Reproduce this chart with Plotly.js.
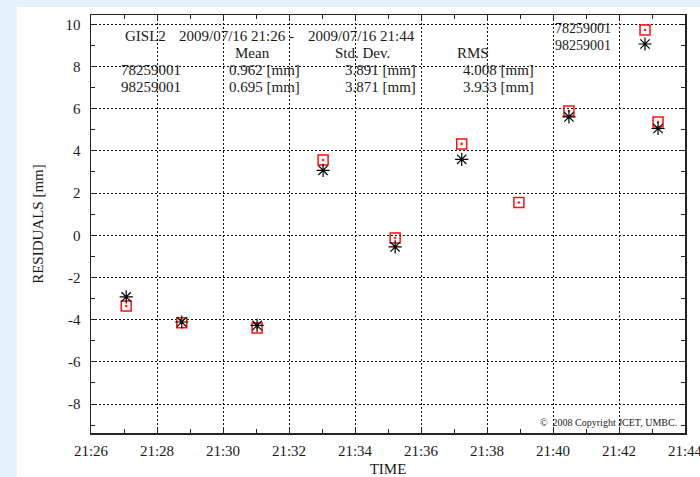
<!DOCTYPE html>
<html>
<head>
<meta charset="utf-8">
<script src="https://cdn.plot.ly/plotly-3.0.1.min.js"></script>
<style>
html, body { margin:0; padding:0; width:700px; height:477px; background:#e6f2fc; overflow:hidden; }
#chart { position:absolute; left:17px; top:7px; width:683px; height:470px; background:#fff; }
</style>
</head>
<body>
<div id="chart"></div>
<script>
// ---- data ----
var day = '2009-07-16 ';
var times78 = ['21:27:04','21:28:45','21:31:02','21:33:02','21:35:13','21:37:14','21:38:58','21:40:29','21:43:11'];
var resid78 = [-3.35, -4.14, -4.39, 3.57, -0.13, 4.33, 1.55, 5.89, 5.37];
var times98 = ['21:27:04','21:28:45','21:31:02','21:33:02','21:35:13','21:37:14','21:40:29','21:43:11'];
var resid98 = [-2.92, -4.11, -4.27, 3.08, -0.55, 3.60, 5.61, 5.06];
var seriesNames = ['78259001', '98259001'];
var statHeader = ['Mean', 'Std. Dev.', 'RMS'];
var stats78 = ['0.962 [mm]', '3.891 [mm]', '4.008 [mm]'];
var stats98 = ['0.695 [mm]', '3.871 [mm]', '3.933 [mm]'];
var station = 'GISL2';
var startLabel = '2009/07/16 21:26';
var endLabel = '2009/07/16 21:44';
var copyright = '\u00a9  2008 Copyright JCET, UMBC.';
var yTickVals = [-8, -6, -4, -2, 0, 2, 4, 6, 8, 10];
var yTickText = ['-8', '-6', '-4', '-2', '0', '2', '4', '6', '8', '10'];

// ---- geometry helpers (page pixels -> paper fractions) ----
var PL = 91, PR = 685, PT = 15, PB = 433;
function px(x) { return (x - PL) / (PR - PL); }
function py(y) { return (PB - y) / (PB - PT); }

var FONT = 'Liberation Serif, Times New Roman, serif';
var TXT = '#1a1a1a';
function ann(text, x, y, xanchor, size) {
  return { text: text, xref: 'paper', yref: 'paper', x: px(x), y: py(y),
    xanchor: xanchor, yanchor: 'middle', showarrow: false,
    font: { family: FONT, size: size || 15, color: TXT } };
}

var traces = [
  { type: 'scatter', mode: 'markers', name: seriesNames[0],
    x: times78.map(function (t) { return day + t; }), y: resid78,
    marker: { symbol: 'square-open-dot', size: 10, color: '#ff1010', line: { width: 1.5, color: '#ff1010' } },
    showlegend: false, cliponaxis: false },
  { type: 'scatter', mode: 'markers', name: seriesNames[1],
    x: times98.map(function (t) { return day + t; }), y: resid98,
    marker: { symbol: 'asterisk-open', size: 11, color: '#000', line: { width: 1.2, color: '#000' } },
    showlegend: false, cliponaxis: false },
  // legend keys (drawn on a hidden overlay axis in paper-like units)
  { type: 'scatter', mode: 'markers', xaxis: 'x2', yaxis: 'y2', hoverinfo: 'skip',
    x: [px(645)], y: [py(30)], showlegend: false,
    marker: { symbol: 'square-open-dot', size: 10, color: '#ff1010', line: { width: 1.5, color: '#ff1010' } } },
  { type: 'scatter', mode: 'markers', xaxis: 'x2', yaxis: 'y2', hoverinfo: 'skip',
    x: [px(645)], y: [py(44)], showlegend: false,
    marker: { symbol: 'asterisk-open', size: 11, color: '#000', line: { width: 1.2, color: '#000' } } }
];

var annotations = [
  ann(station, 123, 36, 'left'),
  ann(startLabel, 177, 36, 'left'),
  ann('-', 287, 36, 'left'),
  ann(endLabel, 306, 36, 'left'),
  ann(statHeader[0], 252, 53, 'center'),
  ann(statHeader[1], 333, 53, 'left'),
  ann(statHeader[2], 473, 53, 'center'),
  ann(seriesNames[0], 119, 70, 'left'),
  ann(stats78[0], 227, 70, 'left'),
  ann(stats78[1], 418, 70, 'right'),
  ann(stats78[2], 536, 70, 'right'),
  ann(seriesNames[1], 119, 87, 'left'),
  ann(stats98[0], 227, 87, 'left'),
  ann(stats98[1], 418, 87, 'right'),
  ann(stats98[2], 536, 87, 'right'),
  ann(seriesNames[0], 553, 29, 'left', 14),
  ann(seriesNames[1], 553, 45, 'left', 14),
  ann(copyright, 679, 422, 'right', 10)
];

var axisCommon = {
  showline: true, linecolor: '#222', linewidth: 1.5, mirror: 'allticks',
  ticks: 'inside', ticklen: 6, tickwidth: 1, tickcolor: '#222',
  showgrid: true, gridcolor: '#111', griddash: '2px,2px', gridwidth: 1,
  zeroline: false, ticklabeloverflow: 'allow',
  tickfont: { family: FONT, size: 15, color: TXT }
};

var layout = {
  width: 683, height: 470,
  margin: { l: PL - 17, r: 700 - PR, t: PT - 7, b: 477 - PB, pad: 0 },
  paper_bgcolor: '#ffffff', plot_bgcolor: '#ffffff',
  showlegend: false,
  xaxis: Object.assign({}, axisCommon, {
    type: 'date', range: [day + '21:26:00', day + '21:44:00.001'],
    tick0: day + '21:26:00', dtick: 120000, tickformat: '%H:%M',
    minor: { ticks: 'inside', ticklen: 4, dtick: 60000, tickcolor: '#222', showgrid: false },
    ticklabelstandoff: 3,
    title: { text: 'TIME', standoff: 15, font: { family: FONT, size: 15, color: TXT } }
  }),
  yaxis: Object.assign({}, axisCommon, {
    range: [-9.37, 10.44], tickmode: 'array', tickvals: yTickVals, ticktext: yTickText,
    minor: { ticks: 'inside', ticklen: 4, dtick: 1, tickcolor: '#222', showgrid: false },
    ticklabelstandoff: 6,
    title: { text: 'RESIDUALS [mm]', standoff: 18, font: { family: FONT, size: 15, color: TXT } }
  }),
  xaxis2: { overlaying: 'x', range: [0, 1], visible: false, fixedrange: true },
  yaxis2: { overlaying: 'y', range: [0, 1], visible: false, fixedrange: true },
  shapes: [
    { type: 'rect', xref: 'paper', yref: 'paper', layer: 'between',
      x0: px(543), x1: px(678), y0: py(52), y1: py(16.5),
      fillcolor: '#ffffff', line: { width: 0 } }
  ],
  annotations: annotations
};

Plotly.newPlot('chart', traces, layout, { staticPlot: true, displayModeBar: false });
</script>
</body>
</html>
